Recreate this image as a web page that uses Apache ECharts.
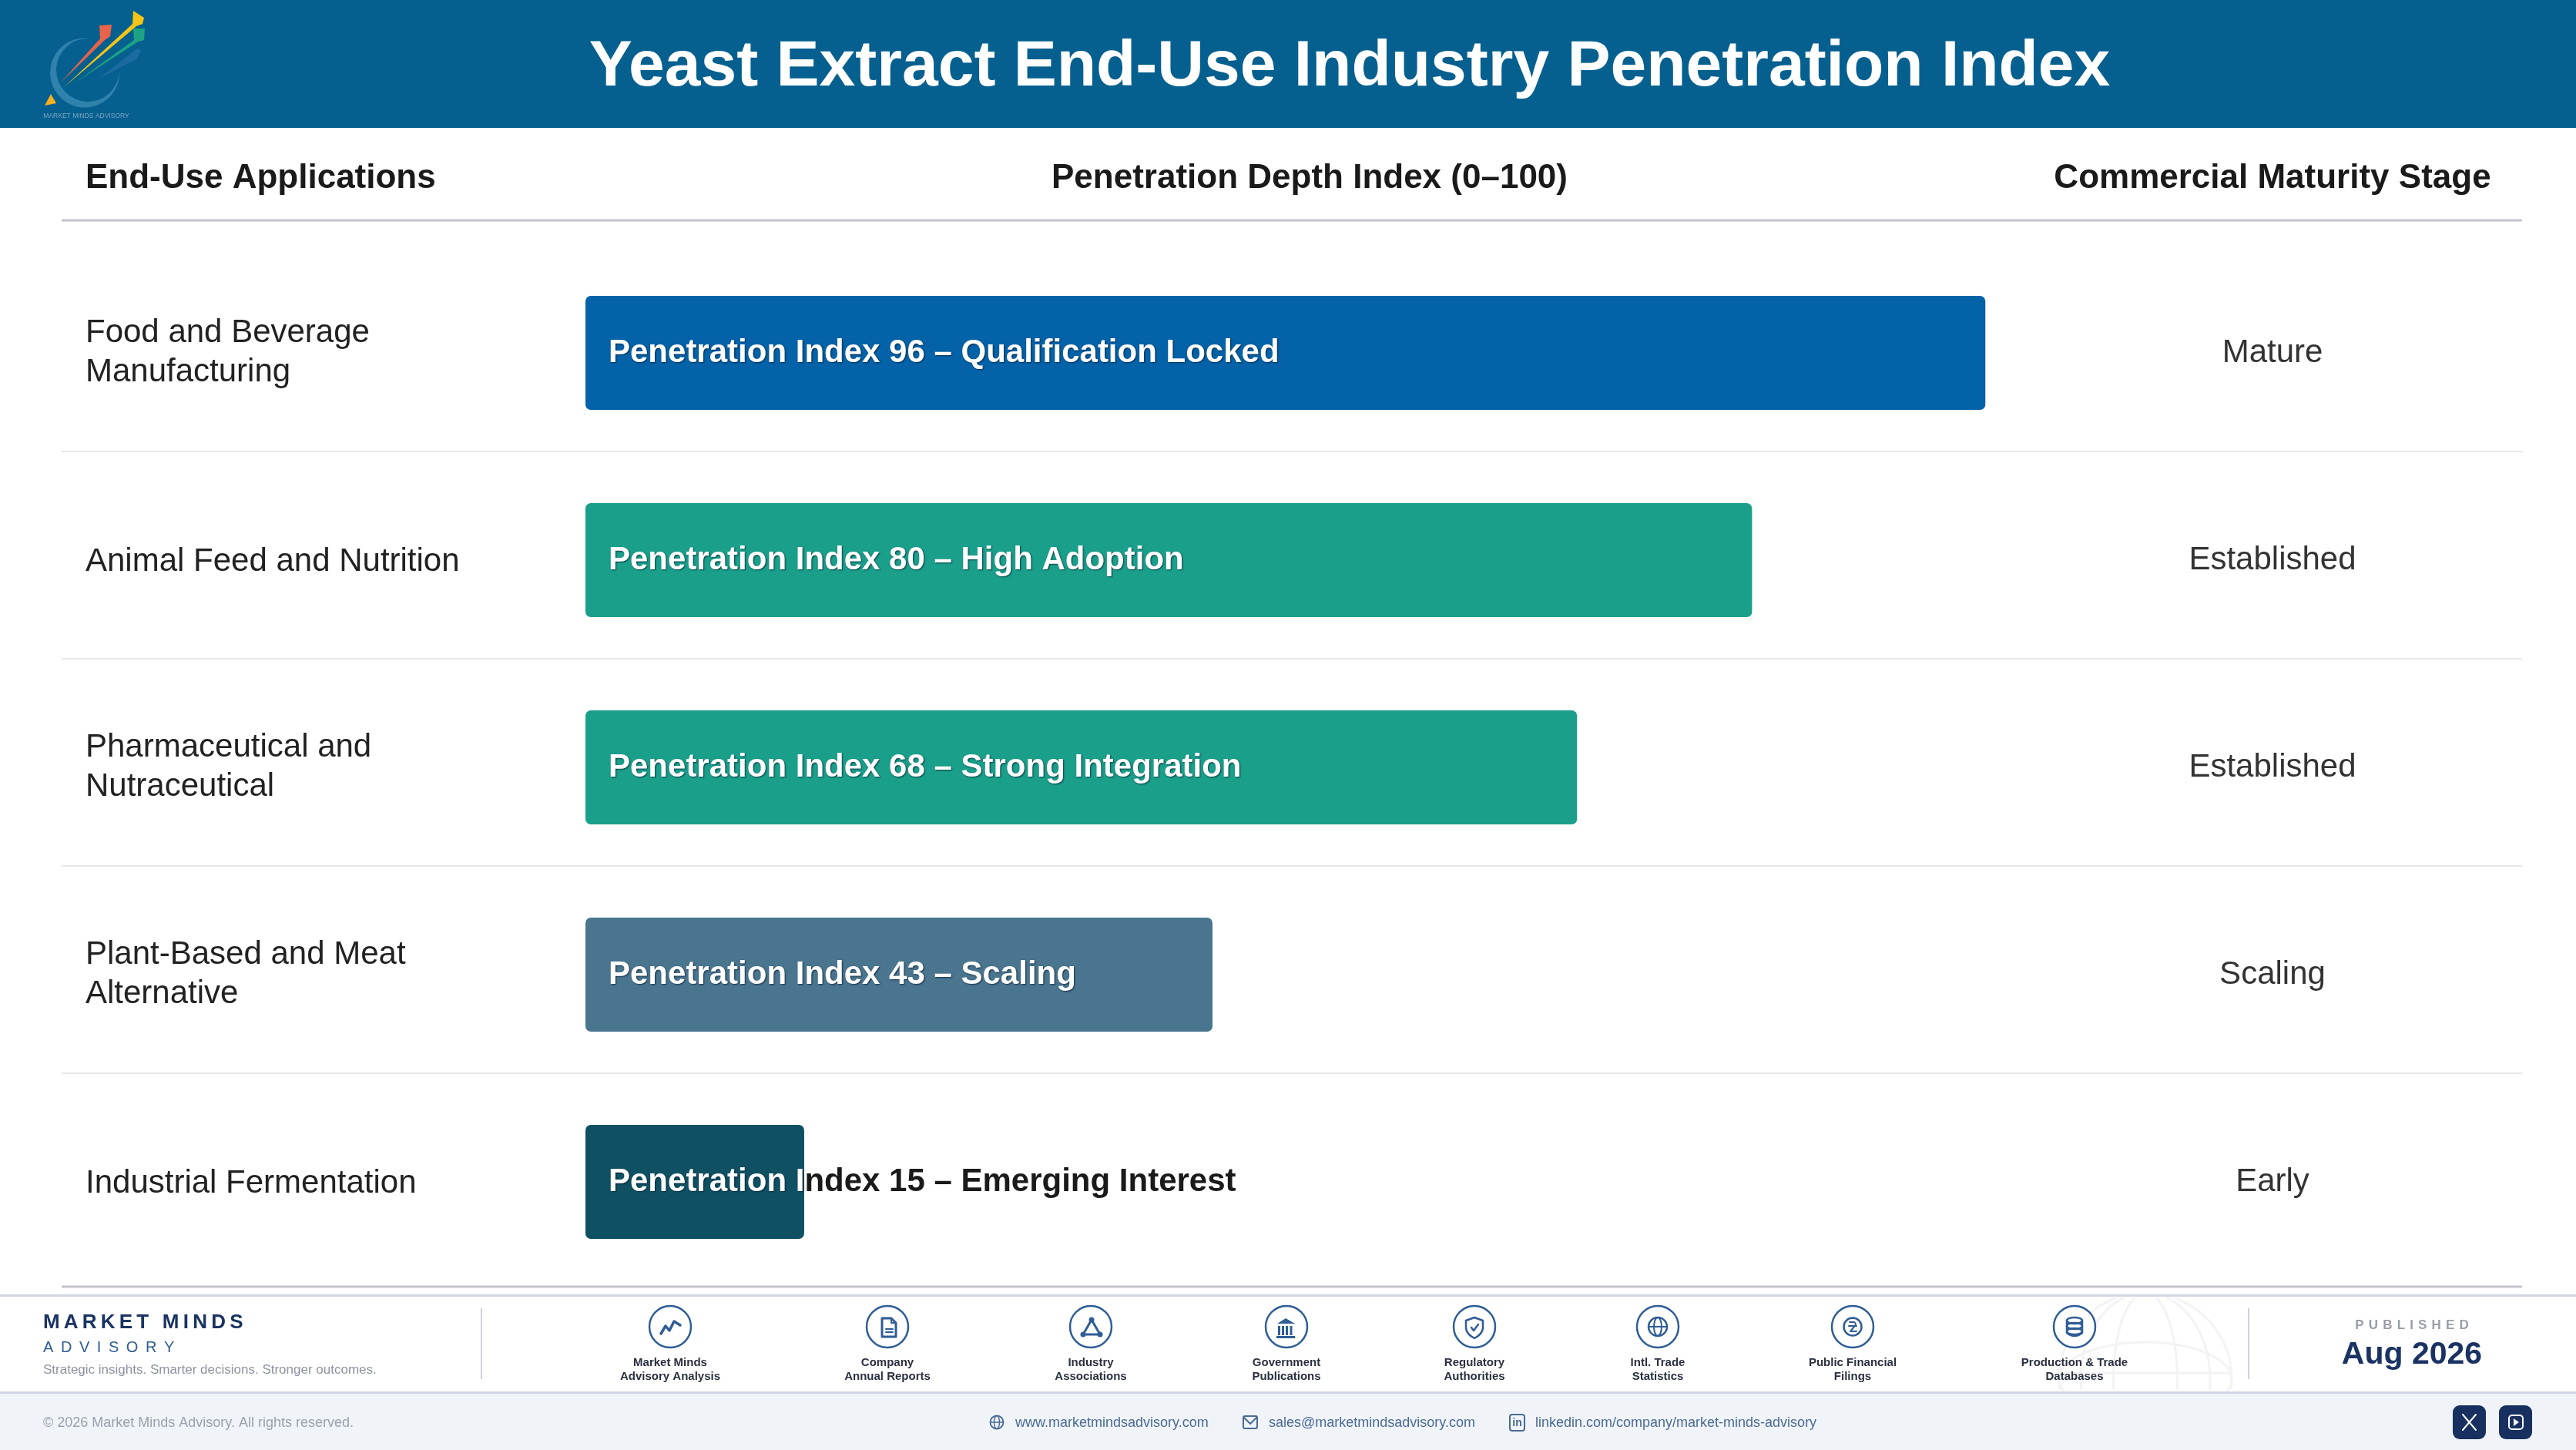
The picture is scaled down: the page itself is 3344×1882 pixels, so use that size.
<!DOCTYPE html>
<html>
<head>
<meta charset="utf-8">
<title>Yeast Extract End-Use Industry Penetration Index</title>
<script src="https://cdn.jsdelivr.net/npm/echarts@6/dist/echarts.min.js"></script>
<style>html,body{margin:0;padding:0;background:#fff}#chart{width:3344px;height:1882px}</style>
</head>
<body>
<div id="chart"></div>
<script>
const applications = ["Food and Beverage\nManufacturing","Animal Feed and Nutrition","Pharmaceutical and\nNutraceutical","Plant-Based and Meat\nAlternative","Industrial Fermentation"];
const penetrationIndex = [96, 80, 68, 43, 15];
const descriptors = ["Qualification Locked","High Adoption","Strong Integration","Scaling","Emerging Interest"];
const maturityStages = ["Mature","Established","Established","Scaling","Early"];
const barColors = ["#0362A8","#1A9F8B","#1A9F8B","#4A758F","#0F5163"];
const sourceLabels = [["Market Minds","Advisory Analysis"],["Company","Annual Reports"],["Industry","Associations"],["Government","Publications"],["Regulatory","Authorities"],["Intl. Trade","Statistics"],["Public Financial","Filings"],["Production & Trade","Databases"]];
const sourceX = [870,1152,1416,1670,1914,2152,2405,2693];

const FONT = '"Liberation Sans", Arial, sans-serif';
const ICON = '#2F5D96';
const g = [];
let pathCount = 0;
function T(text,x,y,size,weight,fill,align){g.push({type:'text',silent:true,z:10,style:{text,x,y,fill,font:`${weight} ${size}px ${FONT}`,textAlign:align||'left',textVerticalAlign:'middle'}});}
function P(pathData,stroke,fill,lw,z){
  const name='decoPath'+(pathCount++);
  echarts.graphic.registerShape(name,echarts.graphic.extendPath(pathData,{}));
  g.push({type:name,silent:true,z:z||10,style:{stroke:stroke||null,fill:fill||null,lineWidth:lw||0,lineCap:'round',lineJoin:'round'}});
}
function R(x,y,w,h,fill,r,z){g.push({type:'rect',silent:true,z:z||1,shape:{x,y,width:w,height:h,r:r||0},style:{fill}});}
function C(cx,cy,r,stroke,fill,lw){g.push({type:'circle',silent:true,z:10,shape:{cx,cy,r},style:{stroke:stroke||null,fill:fill||null,lineWidth:lw||0}});}
function E(cx,cy,rx,ry,stroke,lw){P(`M${cx-rx} ${cy}A${rx} ${ry} 0 1 0 ${cx+rx} ${cy}A${rx} ${ry} 0 1 0 ${cx-rx} ${cy}Z`,stroke,null,lw);}

// header band
R(0,0,3344,166,'#05608F');
T('Yeast Extract End-Use Industry Penetration Index',1752,88,84,'bold','#FFFFFF','center');

// logo
P('M117 50 A45 45 0 1 0 155 92 A41 41 0 1 1 117 50 Z',null,'#2F82AC');
P('M79 107 L130 50 L129 33 L145 32 L143 47 L136 52 Z',null,'#E8634A');
P('M83 113 L172 31 L173 14 L187 23 L185 31 L177 34 Z',null,'#F5C518');
P('M98 107 L174 52 L173 37 L188 37 L187 52 L179 54 Z',null,'#1DA383');
P('M127 103 L178 63 L183 65 L178 76 Z',null,'#1B6BA1');
P('M66 122 L73 134 L58 137 Z',null,'#F6B01E');
T('MARKET MINDS ADVISORY',112,151,8.5,'normal','#7FA5C0','center');

// column heads
T('End-Use Applications',111,232,44,'bold','#1A1A1A');
T('Penetration Depth Index (0–100)',1700,232,44,'bold','#1A1A1A','center');
T('Commercial Maturity Stage',2950,232,44,'bold','#1A1A1A','center');

// rules
R(80,284.5,3194,3,'#C4C4CC');
[585,854,1123,1392].forEach(y=>R(80,y,3194,2,'#E8E8EA'));
R(80,1668.5,3194,3,'#C4C4CC');

// footer
R(0,1680,3344,3,'#D2D6E4',0,2);
R(0,1806,3344,76,'#F0F4F9',0,1);
R(0,1806,3344,3,'#D2D6E4',0,2);

// globe watermark
(function(){
  const cx=2785,cy=1790,r=112,top=1684,bot=1805,col='#F3F3F5';
  function trace(fx,fy){let d='',on=false;for(let i=0;i<=180;i++){const a=i/180*2*Math.PI,x=fx(a),y=fy(a);if(y>=top&&y<=bot){d+=(on?'L':'M')+x.toFixed(1)+' '+y.toFixed(1);on=true;}else on=false;}P(d,col,null,3,3);}
  [1,.75,.37].forEach(k=>trace(a=>cx+r*k*Math.cos(a),a=>cy+r*Math.sin(a)));
  trace(a=>cx+r*Math.cos(a),a=>cy+48*Math.sin(a));
  P(`M${cx-110} 1782L${cx+110} 1782`,col,null,3,3);
})();

// footer brand block
T('M\u2009A\u2009R\u2009K\u2009E\u2009T\u2009 \u2009M\u2009I\u2009N\u2009D\u2009S',56,1717,26,'bold','#1A3363');
T('A \u2009D \u2009V \u2009I \u2009S \u2009O \u2009R \u2009Y',56,1749,20,'normal','#2F5D96');
T('Strategic insights. Smarter decisions. Stronger outcomes.',56,1778,17,'normal','#8C93A0');
R(624,1698,2,92,'#CDD1DC',0,5);
R(2918,1698,2,92,'#CDD1DC',0,5);
T('P\u200A U\u200A B\u200A L\u200A I\u200A S\u200A H\u200A E\u200A D',3131,1720,17,'bold','#9A9EA8','center');
T('Aug 2026',3131,1759,41,'bold','#1A3363','center');

// source icons
sourceX.forEach((x,i)=>{
  const y=1722;
  C(x,y,27,ICON,'#FFFFFF',2.5);
  T(sourceLabels[i][0],x,1768.5,15,'bold','#2B3040','center');
  T(sourceLabels[i][1],x,1786.5,15,'bold','#2B3040','center');
  const p=(dx,dy)=>`${x+dx} ${y+dy}`;
  if(i===0) P(`M${p(-12,9)}L${p(-6,-1)}L${p(-1,5)}L${p(5,-7)}L${p(13,-2)}`,ICON,null,3.5);
  if(i===1){P(`M${p(-7,-11)}L${p(5,-11)}L${p(11,-5)}L${p(11,13)}L${p(-7,13)}Z`,ICON,null,3);P(`M${p(5,-11)}L${p(5,-5)}L${p(11,-5)}`,ICON,null,2);P(`M${p(-2,3)}L${p(7,3)}M${p(-2,7)}L${p(7,7)}`,ICON,null,2);}
  if(i===2){P(`M${p(1,-9)}L${p(-10,10)}L${p(12,10)}Z`,ICON,null,3);C(x+1,y-9,3.5,null,ICON);C(x-10,y+10,3.5,null,ICON);C(x+12,y+10,3.5,null,ICON);}
  if(i===3){P(`M${p(-1,-11)}L${p(11,-4)}L${p(-12,-4)}Z`,null,ICON);[-10,-5,0,5.5].forEach(d=>R(x+d-1,y-1,3,12,ICON,0,10));R(x-13,y+12,24,3,ICON,0,10);}
  if(i===4){P(`M${p(0,-12)}L${p(11,-8)}L${p(11,2)}Q${p(10,10)} ${p(0,15)}Q${p(-10,10)} ${p(-11,2)}L${p(-11,-8)}Z`,ICON,null,2.5);P(`M${p(-4,1)}L${p(-1,5)}L${p(5,-3)}`,ICON,null,2.5);}
  if(i===5){C(x,y,12,ICON,null,2.5);E(x,y,5,12,ICON,2);P(`M${p(-12,0)}L${p(12,0)}`,ICON,null,2);}
  if(i===6){C(x,y,11.5,ICON,null,2.5);P(`M${p(-4,-6)}L${p(2,-6)}Q${p(6,-3)} ${p(2,0)}L${p(-3,6)}L${p(5,6)}M${p(-5,-1)}L${p(5,-1)}`,ICON,null,2);}
  if(i===7){E(x,y-8,10,4,ICON,2.5);E(x,y-1,10,4,ICON,2.5);E(x,y+6,10,4,ICON,2.5);P(`M${p(-10,-8)}L${p(-10,8)}Q${p(0,16)} ${p(10,8)}L${p(10,-8)}`,ICON,null,2.5);}
});

// bottom strip
const LINK='#4A6A94';
T('© 2026 Market Minds Advisory. All rights reserved.',56,1847,18,'normal','#9AA0AD');
T('www.marketmindsadvisory.com',1318,1847,18,'normal',LINK);
T('sales@marketmindsadvisory.com',1647,1847,18,'normal',LINK);
T('linkedin.com/company/market-minds-advisory',1993,1847,18,'normal',LINK);
C(1294,1846,8.5,LINK,null,1.8);E(1294,1846,3.5,8.5,LINK,1.5);P('M1285.5 1846L1302.5 1846',LINK,null,1.5);
g.push({type:'rect',silent:true,z:10,shape:{x:1614,y:1838,width:18,height:16,r:2},style:{stroke:LINK,fill:null,lineWidth:2}});
P('M1615 1840L1623 1848L1631 1840',LINK,null,2);
g.push({type:'rect',silent:true,z:10,shape:{x:1960,y:1836,width:19,height:21,r:3},style:{stroke:LINK,fill:null,lineWidth:2}});
T('in',1969.5,1847,14,'bold',LINK,'center');
R(3184,1824,43,44,'#17305F',9,5);
P('M3197 1836L3214 1856M3214 1836L3197 1856','#FFFFFF',null,2);
R(3244,1824,43,44,'#17305F',9,5);
g.push({type:'rect',silent:true,z:10,shape:{x:3257,y:1837,width:18,height:18,r:4},style:{stroke:'#FFFFFF',fill:null,lineWidth:2}});
P('M3263 1841L3270 1846L3263 1851Z',null,'#FFFFFF');

const WHITE={color:'#FFFFFF',fontFamily:FONT,fontSize:42,fontWeight:'bold',textShadowColor:'rgba(0,20,40,.7)',textShadowBlur:2,textShadowOffsetX:1,textShadowOffsetY:1};
const DARK={color:'#1A1A1A',fontFamily:FONT,fontSize:42,fontWeight:'bold'};
const ROW_TEXT={color:'#222222',fontFamily:FONT,fontSize:42};

const barData = penetrationIndex.map((v,i)=>({value:v,itemStyle:{color:barColors[i]}}));

const chart = echarts.init(document.getElementById('chart'));
chart.setOption({
  animation:false,
  backgroundColor:'#FFFFFF',
  grid:{left:760,top:323.5,width:1893,height:1345,containLabel:false},
  xAxis:{type:'value',min:0,max:100,show:false},
  yAxis:[
    {type:'category',inverse:true,data:applications,axisLine:{show:false},axisTick:{show:false},splitLine:{show:false},
     axisLabel:{align:'left',margin:649,color:'#222222',fontFamily:FONT,fontSize:42,lineHeight:51,
       formatter:v=>v.includes('\n')?v:`{s|${v}}`,rich:{s:Object.assign({padding:[5,0,0,0]},ROW_TEXT)}}},
    {type:'category',inverse:true,position:'right',data:maturityStages,axisLine:{show:false},axisTick:{show:false},splitLine:{show:false},
     axisLabel:{align:'center',margin:297,color:'#333333',fontFamily:FONT,fontSize:42,padding:[3,0,0,0]}}
  ],
  series:[{
    type:'bar',yAxisIndex:0,barWidth:148,data:barData,z:5,
    itemStyle:{borderRadius:7},
    label:{show:true,position:'insideLeft',distance:30,
      formatter:p=>{
        const s=`Penetration Index ${p.value} – ${descriptors[p.dataIndex]}`;
        if(p.value<=15){return `{w|${s.slice(0,13)}}{d|${s.slice(13)}}`;}
        return `{w|${s}}`;
      },
      rich:{w:WHITE,d:DARK}}
  }],
  graphic:{elements:g}
});
</script>
</body>
</html>
